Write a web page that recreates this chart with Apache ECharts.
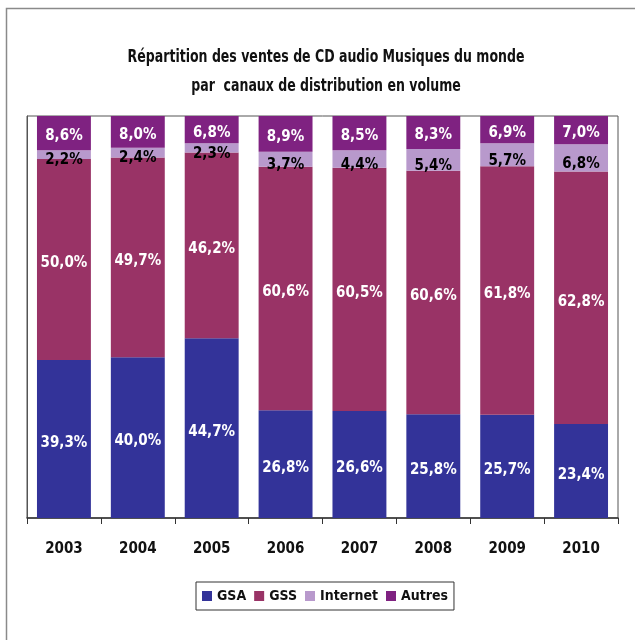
<!DOCTYPE html>
<html>
<head>
<meta charset="utf-8">
<script src="https://cdn.jsdelivr.net/npm/echarts@6/dist/echarts.min.js"></script>
<style>
  html, body { margin: 0; padding: 0; background: #fff; }
  #chart { width: 635px; height: 640px; }
</style>
</head>
<body>
<div id="chart"></div>
<script>
// Années et parts de ventes (%) par canal de distribution
const years = ['2003', '2004', '2005', '2006', '2007', '2008', '2009', '2010'];
const gsa = [39.3, 40.0, 44.7, 26.8, 26.6, 25.8, 25.7, 23.4];
const gss = [50.0, 49.7, 46.2, 60.6, 60.5, 60.6, 61.8, 62.8];
const internet = [2.2, 2.4, 2.3, 3.7, 4.4, 5.4, 5.7, 6.8];
const autres = [8.6, 8.0, 6.8, 8.9, 8.5, 8.3, 6.9, 7.0];
const titleLines = [
  'Répartition des ventes de CD audio Musiques du monde',
  'par  canaux de distribution en volume'
];

const FONT = '"Liberation Sans Narrow", "DejaVu Sans Condensed", "Open Sans", sans-serif';
const pct = p => p.value.toFixed(1).replace('.', ',') + '%';

function series(name, data, color, textColor, offsetY) {
  return {
    name: name,
    type: 'bar',
    stack: 'total',
    data: data,
    barWidth: '73%',
    itemStyle: { color: color },
    label: {
      show: true,
      position: 'inside',
      offset: [0, offsetY],
      formatter: pct,
      color: textColor,
      fontFamily: FONT,
      fontWeight: 'bold',
      fontSize: 15
    }
  };
}

// Condensed two-line heading, drawn as centred text
const titleGraphics = titleLines.map((line, i) => ({
  type: 'text',
  x: 326,
  y: 58 + i * 29,
  scaleX: 0.82,
  silent: true,
  style: {
    text: line,
    fill: '#111',
    font: 'bold 17px ' + FONT,
    textAlign: 'center',
    textVerticalAlign: 'middle'
  }
}));

const chart = echarts.init(document.getElementById('chart'), null, { renderer: 'canvas' });
chart.setOption({
  animation: false,
  backgroundColor: '#fff',
  graphic: [{
    type: 'rect',
    shape: { x: 6.5, y: 8.5, width: 700, height: 700 },
    style: { fill: 'none', stroke: '#8a8a8a', lineWidth: 1.5 },
    silent: true
  }].concat(titleGraphics),
  legend: {
    bottom: 30,
    left: 196,
    data: ['GSA', 'GSS', 'Internet', 'Autres'],
    icon: 'rect',
    itemWidth: 10,
    itemHeight: 10,
    itemGap: 8,
    borderColor: '#333',
    borderWidth: 1,
    borderRadius: 0,
    padding: [7, 6, 7, 6],
    textStyle: { fontFamily: FONT, fontWeight: 'bold', fontSize: 14, color: '#111' }
  },
  grid: {
    left: 27, right: 17, top: 116, bottom: 122,
    show: true, borderColor: '#555', borderWidth: 1
  },
  xAxis: {
    type: 'category',
    data: years,
    axisLine: { lineStyle: { color: '#333', width: 1.5 } },
    axisTick: { show: true, length: 6, lineStyle: { color: '#333' } },
    axisLabel: {
      margin: 24,
      fontFamily: FONT,
      fontWeight: 'bold',
      fontSize: 15,
      color: '#111'
    }
  },
  yAxis: {
    type: 'value',
    min: 0,
    max: 100,
    axisLine: { show: true, lineStyle: { color: '#555' } },
    axisTick: { show: false },
    axisLabel: { show: false },
    splitLine: { show: false }
  },
  series: [
    series('GSA', gsa, '#333399', '#fff', 4),
    series('GSS', gss, '#993366', '#fff', 4),
    series('Internet', internet, '#B899CC', '#000', 6),
    series('Autres', autres, '#7F2281', '#fff', 3)
  ]
});
</script>
</body>
</html>
